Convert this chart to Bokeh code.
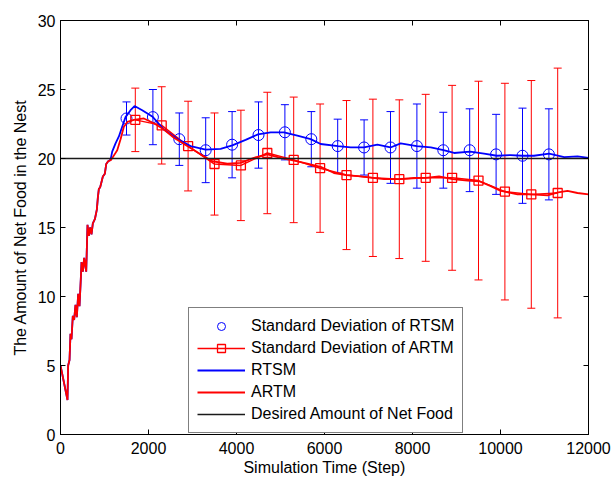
from bokeh.plotting import figure
from bokeh.models import (ColumnDataSource, Whisker, TeeHead, Legend, LegendItem,
                          LinearAxis, FixedTicker, Range1d)
from bokeh.embed import file_html
from bokeh.resources import INLINE

# ---------------- data ----------------
# RTSM mean curve (time step, amount)
t_rtsm = [0, 159, 174, 205, 227, 250, 280, 310, 341, 371, 402, 432, 462, 478, 508, 538,
          584, 614, 644, 675, 705, 735, 781, 826, 850, 872, 900, 932, 963, 1008, 1039,
          1084, 1137, 1175, 1251, 1327, 1402, 1478, 1592, 1683, 1857, 2085, 2350, 2691,
          2957, 3298, 3639, 3904, 4207, 4488, 4776, 5080, 5383, 5686, 5913, 6307, 6595,
          6898, 7202, 7500, 7732, 8096, 8415, 8704, 8945, 9310, 9627, 9916, 10230, 10500,
          10760, 11105, 11447, 11750, 12000]
y_rtsm = [5.0, 2.5, 5.0, 5.4, 7.3, 6.9, 8.6, 8.3, 9.4, 8.5, 10.2, 9.3, 11.3, 12.5, 11.8, 12.8,
          11.8, 15.2, 14.4, 15.0, 14.5, 15.3, 15.6, 16.3, 17.2, 17.8, 17.9, 18.3, 18.7, 18.9, 19.6,
          19.8, 19.9, 20.5, 21.1, 21.6, 22.3, 23.0, 23.5, 23.8, 23.5, 23.05, 22.1, 21.35,
          20.9, 20.65, 20.7, 20.95, 21.35, 21.75, 21.9, 21.9, 21.65, 21.4, 21.05, 20.9, 20.8,
          20.8, 21.0, 20.8, 21.1, 20.9, 20.8, 20.6, 20.4, 20.5, 20.35, 20.2, 20.25, 20.2,
          20.2, 20.35, 20.1, 20.15, 20.05]

# ARTM mean curve
t_artm = [0, 159, 174, 205, 227, 250, 280, 310, 341, 371, 402, 432, 462, 478, 508, 538,
          584, 614, 644, 675, 705, 735, 781, 826, 850, 872, 900, 932, 963, 1008, 1039,
          1084, 1150, 1289, 1365, 1440, 1520, 1668, 1895, 2123, 2350, 2578, 2881, 3184,
          3449, 3790, 4094, 4397, 4700, 5003, 5307, 5610, 5913, 6216, 6497, 6823, 7096,
          7353, 7700, 8035, 8300, 8604, 8908, 9249, 9514, 9779, 10007, 10100, 10386, 10700,
          11068, 11310, 11523, 11750, 12000]
y_artm = [5.0, 2.5, 5.0, 5.4, 7.3, 6.9, 8.6, 8.3, 9.4, 8.5, 10.2, 9.3, 11.3, 12.5, 11.8, 12.8,
          11.8, 15.2, 14.4, 15.0, 14.5, 15.3, 15.6, 16.3, 17.2, 17.8, 17.9, 18.3, 18.7, 18.9, 19.6,
          19.8, 19.9, 20.6, 21.4, 22.3, 22.65, 22.8, 22.9, 22.55, 22.1, 21.5, 20.9, 20.3,
          19.8, 19.63, 19.68, 20.05, 20.3, 20.05, 19.85, 19.63, 19.4, 18.95, 18.8, 18.7, 18.6,
          18.5, 18.5, 18.6, 18.6, 18.7, 18.5, 18.4, 18.35, 18.0, 17.65, 17.6, 17.4, 17.4,
          17.33, 17.55, 17.65, 17.5, 17.4]

# Standard deviation samples
t_std_rtsm = [1500, 2100, 2700, 3300, 3900, 4500, 5100, 5700, 6300, 6900, 7500, 8100,
              8700, 9300, 9900, 10500, 11100]
m_std_rtsm = [22.9, 23.0, 21.4, 20.6, 21.0, 21.7, 21.9, 21.4, 20.9, 20.8, 20.8, 20.9,
              20.6, 20.6, 20.3, 20.2, 20.3]
s_std_rtsm = [1.2, 2.0, 1.9, 2.35, 2.4, 2.4, 2.0, 2.0, 1.95, 2.0, 2.6, 3.05,
              2.75, 3.0, 2.9, 3.45, 3.3]

t_std_artm = [1700, 2300, 2900, 3500, 4100, 4700, 5300, 5900, 6500, 7100, 7700, 8300,
              8900, 9500, 10100, 10700, 11300]
m_std_artm = [22.8, 22.4, 20.9, 19.6, 19.5, 20.4, 19.9, 19.3, 18.8, 18.6, 18.5, 18.6,
              18.6, 18.4, 17.6, 17.4, 17.5]
s_std_artm = [2.3, 2.8, 3.25, 3.7, 4.0, 4.4, 4.55, 4.65, 5.4, 5.7, 5.75, 6.05,
              6.7, 7.2, 7.85, 8.25, 9.05]

desired = 20
x_span = [0, 12000]
x_ticks = [0, 2000, 4000, 6000, 8000, 10000, 12000]
y_ticks = [0, 5, 10, 15, 20, 25, 30]

# ---------------- figure ----------------
FONT = "Liberation Sans"
BLUE = "#0000ff"
RED = "#ff0000"

p = figure(width=612, height=478, output_backend="svg", toolbar_location=None,
           x_range=Range1d(0, 12000), y_range=Range1d(0, 30),
           min_border_left=60, min_border_right=24, min_border_top=20, min_border_bottom=41)
p.grid.visible = False
p.outline_line_color = "black"
p.outline_line_width = 1
p.background_fill_color = "white"
p.border_fill_color = "white"

for ax in (p.xaxis[0], p.yaxis[0]):
    ax.major_tick_in = 5
    ax.major_tick_out = 0
    ax.minor_tick_in = 0
    ax.minor_tick_out = 0
    ax.axis_line_color = "black"
    ax.major_tick_line_color = "black"
    ax.major_label_text_font = FONT
    ax.major_label_text_font_size = "16px"
    ax.major_label_text_color = "black"
    ax.axis_label_text_font = FONT
    ax.axis_label_text_font_size = "16px"
    ax.axis_label_text_font_style = "normal"
    ax.axis_label_text_color = "black"

p.xaxis[0].ticker = FixedTicker(ticks=x_ticks)
p.yaxis[0].ticker = FixedTicker(ticks=y_ticks)
p.xaxis[0].axis_label = "Simulation Time (Step)"
p.yaxis[0].axis_label = "The Amount of Net Food in the Nest"
p.xaxis[0].major_label_standoff = 7
p.xaxis[0].axis_label_standoff = 2
p.yaxis[0].major_label_standoff = 5
p.yaxis[0].axis_label_standoff = 6

# box ticks on top and right (no labels drawn)
top = LinearAxis(ticker=FixedTicker(ticks=x_ticks), major_tick_in=5, major_tick_out=0,
                 minor_tick_in=0, minor_tick_out=0, major_label_text_font_size="1px",
                 major_label_text_color=None, major_label_standoff=0,
                 axis_line_color="black")
right = LinearAxis(ticker=FixedTicker(ticks=y_ticks), major_tick_in=5, major_tick_out=0,
                   minor_tick_in=0, minor_tick_out=0, major_label_text_font_size="1px",
                   major_label_text_color=None, major_label_standoff=0,
                   axis_line_color="black")
p.add_layout(top, "above")
p.add_layout(right, "right")

# sources
src_r = ColumnDataSource(dict(t=t_std_rtsm, m=m_std_rtsm,
                              lo=[m - s for m, s in zip(m_std_rtsm, s_std_rtsm)],
                              hi=[m + s for m, s in zip(m_std_rtsm, s_std_rtsm)]))
src_a = ColumnDataSource(dict(t=t_std_artm, m=m_std_artm,
                              lo=[m - s for m, s in zip(m_std_artm, s_std_artm)],
                              hi=[m + s for m, s in zip(m_std_artm, s_std_artm)]))

# error bars
w_r = Whisker(source=src_r, base="t", lower="lo", upper="hi", line_color=BLUE, line_width=1,
              upper_head=TeeHead(size=8, line_color=BLUE, line_width=1),
              lower_head=TeeHead(size=8, line_color=BLUE, line_width=1))
w_a = Whisker(source=src_a, base="t", lower="lo", upper="hi", line_color=RED, line_width=1,
              upper_head=TeeHead(size=8, line_color=RED, line_width=1),
              lower_head=TeeHead(size=8, line_color=RED, line_width=1))
p.add_layout(w_r)
p.add_layout(w_a)

r_circ = p.scatter(x="t", y="m", source=src_r, marker="circle", size=11, fill_color=None,
                   line_color=BLUE, line_width=1)
r_aline = p.line(x=t_std_artm, y=m_std_artm, line_color=RED, line_width=1.5)
r_sq = p.scatter(x="t", y="m", source=src_a, marker="square", size=9,
                 fill_color=None, fill_alpha=0, line_color=RED, line_width=1.3)

r_rtsm = p.line(t_rtsm, y_rtsm, line_color=BLUE, line_width=1.8)
r_artm = p.line(t_artm, y_artm, line_color=RED, line_width=1.8)
r_des = p.line(x_span, [desired, desired], line_color="#1a1a1a", line_width=1.4)

legend = Legend(items=[
    LegendItem(label="Standard Deviation of RTSM", renderers=[r_circ]),
    LegendItem(label="Standard Deviation of ARTM", renderers=[r_aline, r_sq]),
    LegendItem(label="RTSM", renderers=[r_rtsm]),
    LegendItem(label="ARTM", renderers=[r_artm]),
    LegendItem(label="Desired Amount of Net Food", renderers=[r_des]),
], location=(128, 1))
legend.border_line_color = "black"
legend.border_line_width = 1
legend.background_fill_color = "white"
legend.background_fill_alpha = 1
legend.label_text_font = FONT
legend.label_text_font_size = "16px"
legend.label_text_color = "black"
legend.glyph_width = 48
legend.glyph_height = 20
legend.label_height = 20
legend.label_standoff = 6
legend.spacing = 2
legend.padding = 8
legend.margin = 0
p.add_layout(legend, "center")

open("out.html", "w").write(file_html(p, INLINE))
